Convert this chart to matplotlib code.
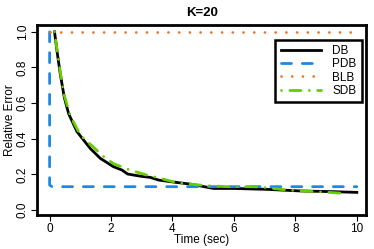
import numpy as np
import matplotlib
matplotlib.use("Agg")
import matplotlib.pyplot as plt

plt.rcParams['font.family'] = ['Liberation Sans', 'DejaVu Sans']

# data
db_t = [0.16, 0.25, 0.35, 0.48, 0.62, 0.89, 1.32, 1.65, 2.08, 2.36, 2.54, 2.95, 3.28, 3.55, 4.03, 4.6, 5.34, 6.0, 7.07, 8.16, 9.24, 10.0]
db_y = [1.0, 0.88, 0.76, 0.63, 0.54, 0.44, 0.346, 0.29, 0.243, 0.224, 0.202, 0.19, 0.183, 0.168, 0.157, 0.145, 0.121, 0.121, 0.116, 0.107, 0.103, 0.099]

pdb_t = [0.0, 0.0, 0.08, 10.0]
pdb_y = [1.0, 0.14, 0.131, 0.131]

blb_t = [0.0, 10.0]
blb_y = [1.0, 1.0]

sdb_t = [0.16, 0.29, 0.45, 0.67, 1.0, 1.76, 2.08, 2.62, 3.17, 3.6, 4.14, 4.9, 5.77, 6.64, 7.07, 7.72, 8.7, 9.67]
sdb_y = [1.0, 0.84, 0.66, 0.53, 0.42, 0.30, 0.26, 0.224, 0.196, 0.178, 0.153, 0.14, 0.131, 0.131, 0.125, 0.112, 0.103, 0.093]

xticks = [0, 2, 4, 6, 8, 10]
yticks = [0.0, 0.2, 0.4, 0.6, 0.8, 1.0]

fig = plt.figure(figsize=(3.74, 2.49), dpi=100)
ax = fig.add_axes([0.0998, 0.1365, 0.8788, 0.7643])

ax.plot(db_t, db_y, color="black", lw=2, label="DB")
ax.plot(pdb_t, pdb_y, color="#1e88e5", lw=2, linestyle=(0, (3.6, 3.9)),
        dash_capstyle="round", label="PDB")
ax.plot(blb_t, blb_y, color="#e8772e", lw=2, linestyle=(0, (0.01, 3.85)),
        dash_capstyle="round", label="BLB")
ax.plot(sdb_t, sdb_y, color="#66cc00", lw=2, linestyle=(0, (0.01, 3, 4, 3)),
        dash_capstyle="round", label="SDB")

ax.set_xlim(-0.4, 10.3)
ax.set_ylim(-0.028, 1.04)
ax.set_xticks(xticks)
ax.set_xticklabels([str(t) for t in xticks])
ax.set_yticks(yticks)
ax.set_yticklabels([f"{t:.1f}" for t in yticks], rotation=90, va="center")
ax.tick_params(direction="out", length=4, width=0.8, labelsize=8.5, pad=2)
for s in ax.spines.values():
    s.set_linewidth(2)

ax.set_xlabel("Time (sec)", fontsize=8.5, labelpad=-1)
ax.set_ylabel("Relative Error", fontsize=8.5, labelpad=1)
ax.set_title("K=20", fontsize=9.5, fontweight="bold", pad=6)

leg = ax.legend(loc="upper right", bbox_to_anchor=(0.988, 0.92), borderaxespad=0,
                fontsize=8.5, fancybox=False, edgecolor="black", framealpha=1,
                handlelength=3.4, handletextpad=1.0, labelspacing=0.1, borderpad=0.45)
leg.get_frame().set_linewidth(1.8)

fig.savefig("out.png", dpi=100)
